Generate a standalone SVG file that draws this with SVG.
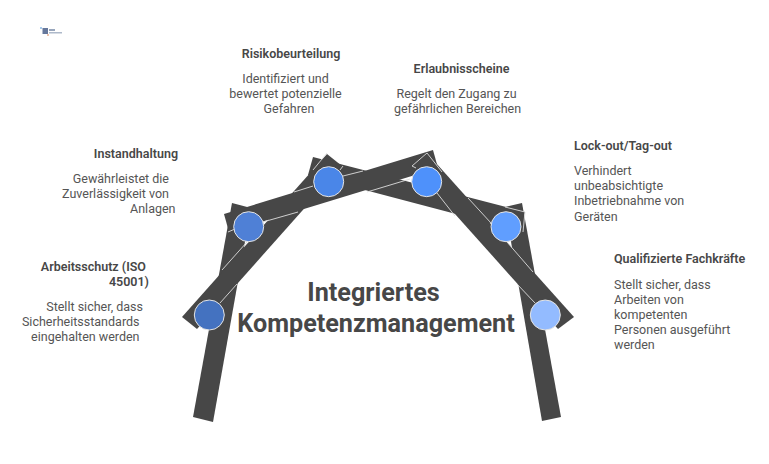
<svg xmlns="http://www.w3.org/2000/svg" width="769" height="464" viewBox="0 0 769 464">
<style>
text{font-family:Roboto,"Liberation Sans",sans-serif}
.h{font-size:12.5px;font-weight:600;fill:#474747}
.b{font-size:12.5px;fill:#555}
.t{font-size:25.2px;font-weight:700;fill:#474747}
.m{text-anchor:middle}.e{text-anchor:end}
.bar{fill:#474747}
.ln{stroke:#dedede;stroke-width:.9;fill:none}
.c{stroke:#e4e4e4;stroke-width:1}
</style>
<rect width="769" height="464" fill="#fff"/>
<g id="logo">
<rect x="42.500" y="28" width="5.500" height="6" fill="#66789c"/>
<rect x="40" y="27" width="2" height="2" fill="#a8cbec"/>
<rect x="47" y="34" width="2" height="2" fill="#ecc4ae"/>
<rect x="49" y="29" width="6" height="2" fill="#98a6bc"/>
<rect x="49" y="32" width="13" height="1.500" fill="#aeb9ca"/>
</g>
<g id="connectors">
<polygon class="bar" points="193,417 213,422 251,208 232,203"/>
<polygon class="bar" points="561,417 542,421 505,207 522,203"/>
<polygon class="bar" points="313,157 525,212 520,231 308,175"/>
<polygon class="bar" points="182,317 197,329 342,166 327,154"/>
<polygon class="bar" points="224,214 229,232 438,168 433,150"/>
<polygon class="bar" points="574,317 558,329 412,166 427,153"/>
<path class="ln" d="M220,303L237,284M222,270L247,242M228,232L235,229M263,222L298,212M294,192L313,186M313,170L327,153M340,170L343,166M343,176L363,171M367,192L410,179M416,168L412,166L427,153L442,172M437,193L455,216M468,198L491,223M505,207L525,212L523,232M507,242L533,272M517,284L535,303"/>
</g>
<g id="node-1"><circle class="c" cx="209.300" cy="315" r="15" fill="#4472c0"/>
<text class="h e" x="146" y="270.500">Arbeitsschutz (ISO</text><text class="h e" x="149" y="285.500">45001)</text>
<text class="b e" x="143" y="310.500">Stellt sicher, dass</text><text class="b e" x="139.500" y="326">Sicherheitsstandards</text><text class="b e" x="139.500" y="341">eingehalten werden</text></g>
<g id="node-2"><circle class="c" cx="248.700" cy="226.700" r="15" fill="#4f80d6"/>
<text class="h e" x="178" y="157.500">Instandhaltung</text>
<text class="b e" x="169" y="182.500">Gewährleistet die</text><text class="b e" x="169" y="197.500">Zuverlässigkeit von</text><text class="b e" x="175.500" y="213">Anlagen</text></g>
<g id="node-3"><circle class="c" cx="328.700" cy="181.700" r="15" fill="#4a86e8"/>
<text class="h m" x="291" y="57.500">Risikobeurteilung</text>
<text class="b m" x="285.500" y="82.500">Identifiziert und</text><text class="b m" x="285.500" y="97.500">bewertet potenzielle</text><text class="b m" x="289" y="112.500">Gefahren</text></g>
<g id="node-4"><circle class="c" cx="426.700" cy="181.700" r="15" fill="#4e91fb"/>
<text class="h m" x="461.500" y="72.500">Erlaubnisscheine</text>
<text class="b m" x="456.500" y="97.500">Regelt den Zugang zu</text><text class="b m" x="457.500" y="112.500">gefährlichen Bereichen</text></g>
<g id="node-5"><circle class="c" cx="506" cy="226.700" r="15" fill="#609eff"/>
<text class="h" x="574" y="149.500">Lock-out/Tag-out</text>
<text class="b" x="574" y="174.500">Verhindert</text><text class="b" x="574" y="190">unbeabsichtigte</text><text class="b" x="574" y="205">Inbetriebnahme von</text><text class="b" x="574" y="220.500">Geräten</text></g>
<g id="node-6"><circle class="c" cx="545.300" cy="315" r="15" fill="#93bbff"/>
<text class="h" x="614" y="262.500">Qualifizierte Fachkräfte</text>
<text class="b" x="614" y="288.500">Stellt sicher, dass</text><text class="b" x="614" y="303.500">Arbeiten von</text><text class="b" x="614" y="319">kompetenten</text><text class="b" x="614" y="334">Personen ausgeführt</text><text class="b" x="614" y="349">werden</text></g>
<g id="title"><text class="t m" x="373.500" y="300.500">Integriertes</text><text class="t m" x="376" y="331.500">Kompetenzmanagement</text></g>
</svg>
